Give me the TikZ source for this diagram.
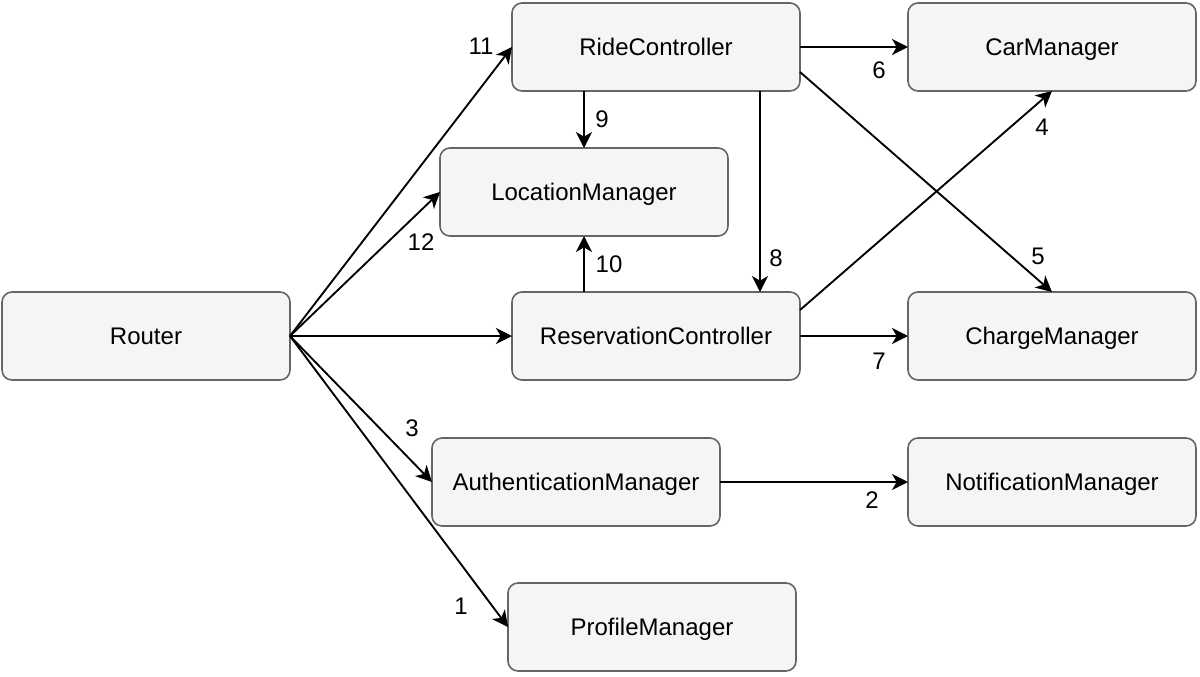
\documentclass[tikz,border=0pt]{standalone}
\usepackage{fontspec}
\setmainfont{Liberation Sans}
\usepackage{xcolor}
\usepackage{tikz}
\usetikzlibrary{arrows.meta}
\definecolor{boxfill}{HTML}{F5F5F5}
\definecolor{boxline}{HTML}{666666}

\begin{document}
\begin{tikzpicture}[
  x=0.75pt, y=-0.75pt,
  box/.style={draw=boxline, fill=boxfill, line width=1.2pt, rounded corners=7.5pt,
              minimum width=216pt, minimum height=66pt, outer sep=0pt,
              text height=13pt, text depth=0pt,
              font=\fontsize{18}{22}\selectfont},
  num/.style={font=\fontsize{18}{22}\selectfont, inner sep=0pt},
  arr/.style={-{Stealth[length=12pt, width=12pt, inset=3.5pt]}, line width=1.4pt}
]
\useasboundingbox (0,0) rectangle (1200,676);
\node[box] (ride)    at (656,47)  {RideController};
\node[box] (car)     at (1052,47) {CarManager};
\node[box] (loc)     at (584,192) {LocationManager};
\node[box] (router)  at (146,336) {Router};
\node[box] (res)     at (656,336) {ReservationController};
\node[box] (charge)  at (1052,336) {ChargeManager};
\node[box] (auth)    at (576,482) {AuthenticationManager};
\node[box] (notif)   at (1052,482) {NotificationManager};
\node[box] (profile) at (652,627) {ProfileManager};
% from the router
\draw[arr] (router.east) -- (ride.west);
\draw[arr] (router.east) -- (loc.west);
\draw[arr] (router.east) -- (res.west);
\draw[arr] (router.east) -- (auth.west);
\draw[arr] (router.east) -- (profile.west);
% between the controllers and managers
\draw[arr] (loc.north |- ride.south) -- (loc.north);
\draw[arr] (loc.south |- res.north) -- (loc.south);
\draw[arr] ([xshift=78pt]ride.south) -- ([xshift=78pt]res.north);
\draw[arr] (ride.east) -- (car.west);
\draw[arr] ([yshift=-18.75pt]ride.east) -- (charge.north);
\draw[arr] ([yshift=19.5pt]res.east) -- (car.south);
\draw[arr] (res.east) -- (charge.west);
\draw[arr] (auth.east) -- (notif.west);
% numbers
\node[num] (n11) at (481,46)  {11};
\node[num] (n12) at (421,242) {12};
\node[num] (n3)  at (412,428) {3};
\node[num] (n1)  at (461,606) {1};
\node[num] (n9)  at (602,119) {9};
\node[num] (n10) at (609,264) {10};
\node[num] (n8)  at (776,258) {8};
\node[num] (n6)  at (879,70)  {6};
\node[num] (n4)  at (1042,127) {4};
\node[num] (n5)  at (1038,256) {5};
\node[num] (n7)  at (879,361) {7};
\node[num] (n2)  at (872,500) {2};
\end{tikzpicture}
\end{document}
